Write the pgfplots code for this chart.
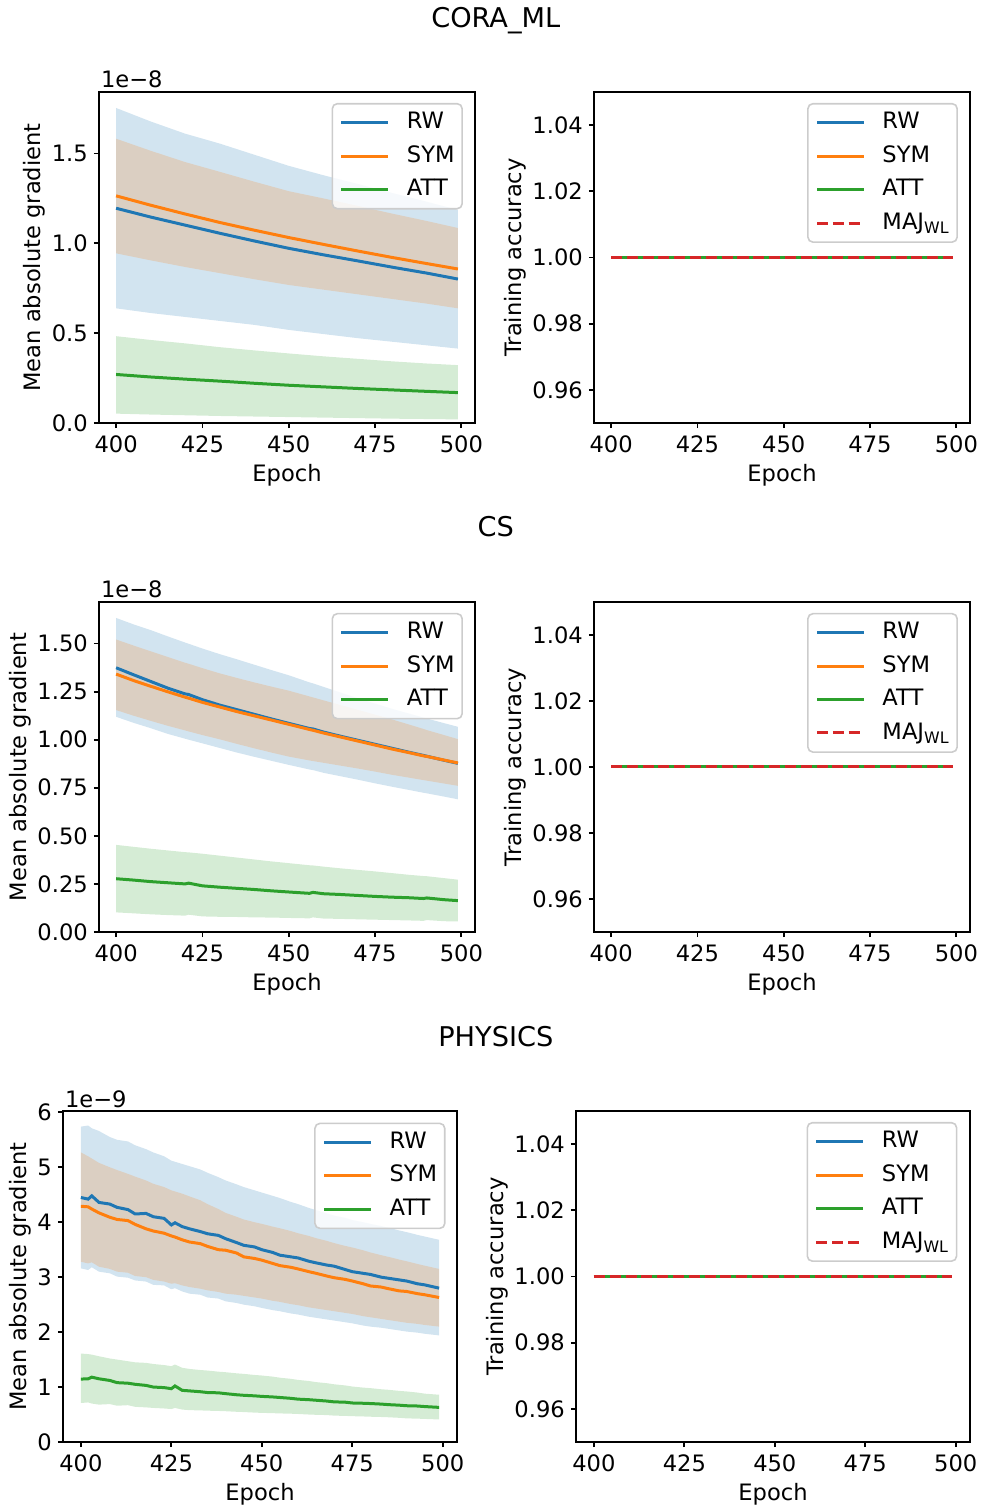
\documentclass[border=0pt]{standalone}
\usepackage{fontspec}
\setmainfont{DejaVu Sans}
\usepackage{pgfplots}
\pgfplotsset{compat=1.18}
\usepackage{pgfplotstable}
\usepgfplotslibrary{fillbetween}

\definecolor{tabblue}{HTML}{1F77B4}
\definecolor{taborange}{HTML}{FF7F0E}
\definecolor{tabgreen}{HTML}{2CA02C}
\definecolor{tabred}{HTML}{D62728}
\newcommand{\fs}{\fontsize{11.3bp}{13.6bp}\selectfont}
\newcommand{\ts}{\fontsize{13.6bp}{16.3bp}\selectfont}

% CORA_ML (units of 1e-8)
\pgfplotstableread{
x   rw    rwlo  rwhi  sym   symlo symhi att   attlo atthi
400 1.195 0.638 1.753 1.264 0.944 1.582 0.270 0.052 0.483
410 1.146 0.612 1.678 1.212 0.905 1.515 0.256 0.047 0.462
420 1.101 0.590 1.610 1.163 0.868 1.452 0.244 0.043 0.443
430 1.056 0.568 1.555 1.116 0.834 1.398 0.233 0.039 0.422
440 1.013 0.546 1.493 1.073 0.800 1.343 0.221 0.036 0.404
450 0.972 0.518 1.431 1.032 0.768 1.290 0.210 0.033 0.387
460 0.936 0.495 1.379 0.994 0.742 1.250 0.201 0.030 0.371
470 0.902 0.472 1.330 0.957 0.716 1.208 0.192 0.027 0.357
480 0.867 0.452 1.280 0.921 0.690 1.165 0.184 0.024 0.343
490 0.834 0.432 1.231 0.887 0.664 1.124 0.176 0.022 0.331
499 0.801 0.414 1.186 0.857 0.638 1.085 0.169 0.020 0.322
}\cora

% CS (units of 1e-8)
\pgfplotstableread{
x   rw    rwlo  rwhi  sym   symlo symhi att   attlo atthi
400 1.374 1.119 1.633 1.341 1.154 1.521 0.277 0.102 0.453
405 1.338 1.088 1.600 1.308 1.125 1.490 0.270 0.097 0.443
410 1.303 1.060 1.570 1.278 1.098 1.460 0.262 0.092 0.433
415 1.268 1.030 1.537 1.249 1.072 1.430 0.256 0.088 0.424
420 1.238 1.005 1.505 1.221 1.048 1.400 0.250 0.085 0.415
421 1.235 1.000 1.499 1.216 1.043 1.395 0.254 0.090 0.414
425 1.208 0.981 1.474 1.194 1.024 1.372 0.240 0.081 0.407
430 1.180 0.957 1.445 1.170 1.002 1.345 0.233 0.079 0.397
435 1.156 0.933 1.418 1.146 0.978 1.321 0.227 0.078 0.387
440 1.132 0.911 1.390 1.124 0.955 1.298 0.221 0.076 0.377
445 1.108 0.890 1.362 1.102 0.933 1.276 0.214 0.075 0.367
450 1.085 0.869 1.335 1.080 0.912 1.255 0.208 0.073 0.358
456 1.058 0.845 1.298 1.053 0.892 1.225 0.201 0.071 0.347
457 1.056 0.842 1.293 1.049 0.889 1.220 0.206 0.076 0.346
460 1.040 0.828 1.275 1.035 0.880 1.205 0.199 0.070 0.340
465 1.018 0.810 1.245 1.014 0.865 1.180 0.195 0.068 0.331
470 0.997 0.792 1.215 0.993 0.850 1.155 0.190 0.066 0.323
475 0.976 0.773 1.188 0.972 0.834 1.130 0.185 0.064 0.315
480 0.955 0.755 1.160 0.951 0.817 1.105 0.181 0.062 0.306
485 0.934 0.738 1.135 0.932 0.802 1.078 0.178 0.060 0.297
489 0.918 0.724 1.115 0.916 0.790 1.056 0.174 0.058 0.291
490 0.914 0.721 1.110 0.913 0.787 1.050 0.177 0.062 0.290
495 0.893 0.704 1.086 0.894 0.772 1.024 0.168 0.056 0.280
499 0.877 0.690 1.067 0.879 0.760 1.003 0.163 0.055 0.272
}\cs

% PHYSICS (units of 1e-9)
\pgfplotstableread{
x   rw   rwlo rwhi sym  symlo symhi att   attlo atthi
400 4.45 3.16 5.74 4.29 3.28 5.27 1.145 0.71 1.61
402 4.42 3.13 5.76 4.28 3.25 5.20 1.150 0.72 1.60
403 4.48 3.18 5.71 4.24 3.27 5.16 1.180 0.70 1.59
405 4.36 3.10 5.66 4.17 3.19 5.08 1.150 0.68 1.56
408 4.33 3.07 5.55 4.09 3.15 5.00 1.120 0.69 1.52
410 4.27 3.01 5.50 4.05 3.10 4.95 1.080 0.66 1.50
413 4.23 2.99 5.47 4.03 3.08 4.88 1.070 0.67 1.47
415 4.15 2.94 5.40 3.96 3.02 4.83 1.050 0.64 1.45
418 4.16 2.92 5.33 3.88 3.00 4.76 1.030 0.63 1.44
420 4.10 2.86 5.27 3.84 2.95 4.70 1.000 0.62 1.42
423 4.07 2.85 5.20 3.80 2.92 4.64 0.990 0.61 1.40
425 3.95 2.78 5.12 3.75 2.88 4.58 0.970 0.60 1.38
426 3.99 2.80 5.10 3.73 2.89 4.56 1.020 0.62 1.41
428 3.92 2.74 5.06 3.68 2.85 4.52 0.940 0.59 1.35
430 3.88 2.70 5.02 3.64 2.82 4.47 0.930 0.58 1.33
433 3.83 2.68 4.96 3.61 2.79 4.40 0.915 0.575 1.31
435 3.79 2.63 4.90 3.56 2.76 4.33 0.900 0.57 1.30
438 3.76 2.61 4.82 3.50 2.73 4.24 0.895 0.565 1.28
440 3.70 2.56 4.76 3.49 2.70 4.17 0.880 0.56 1.27
443 3.63 2.53 4.69 3.44 2.68 4.10 0.860 0.55 1.25
445 3.58 2.50 4.64 3.37 2.66 4.05 0.850 0.545 1.24
448 3.55 2.47 4.58 3.34 2.63 4.00 0.840 0.535 1.22
450 3.50 2.44 4.54 3.31 2.61 3.97 0.830 0.53 1.21
453 3.45 2.40 4.48 3.25 2.57 3.92 0.820 0.525 1.19
455 3.40 2.38 4.44 3.21 2.55 3.89 0.810 0.52 1.17
458 3.37 2.34 4.37 3.18 2.51 3.84 0.795 0.515 1.15
460 3.35 2.32 4.33 3.15 2.49 3.80 0.780 0.51 1.13
463 3.29 2.28 4.26 3.10 2.45 3.75 0.770 0.50 1.11
465 3.26 2.26 4.22 3.07 2.43 3.71 0.760 0.495 1.09
468 3.22 2.23 4.16 3.02 2.40 3.66 0.745 0.49 1.07
470 3.20 2.21 4.12 2.99 2.38 3.62 0.730 0.48 1.05
473 3.14 2.18 4.08 2.96 2.35 3.57 0.725 0.475 1.03
475 3.10 2.16 4.04 2.93 2.33 3.54 0.710 0.47 1.01
478 3.07 2.12 4.00 2.88 2.29 3.49 0.705 0.465 0.99
480 3.05 2.10 3.97 2.84 2.27 3.45 0.700 0.46 0.98
483 3.00 2.08 3.93 2.82 2.24 3.40 0.690 0.455 0.96
485 2.98 2.06 3.90 2.79 2.22 3.37 0.680 0.45 0.95
488 2.95 2.03 3.85 2.75 2.19 3.32 0.670 0.44 0.93
490 2.93 2.01 3.82 2.74 2.17 3.29 0.660 0.43 0.92
493 2.88 1.99 3.77 2.70 2.15 3.24 0.655 0.425 0.90
495 2.86 1.97 3.74 2.68 2.13 3.21 0.645 0.42 0.88
499 2.80 1.94 3.68 2.63 2.10 3.15 0.630 0.41 0.86
}\phys

\pgfplotsset{
  base/.style={
    scale only axis, anchor=south west,
    xmin=395.05, xmax=503.95, xtick={400,425,450,475,500},
    tick pos=left, tick align=outside, major tick length=2.6bp,
    every tick/.append style={line width=0.9bp, black},
    axis line style={line width=0.9bp},
    tick label style={font=\fs},
    xticklabel style={inner sep=3.6bp},
    yticklabel style={inner sep=2.8bp},
    label style={font=\fs},
    xlabel={Epoch},
    xlabel shift=-1.5bp,
    ylabel shift=-3bp,
    /pgf/number format/assume math mode=true,
    legend cell align=left,
    legend image code/.code={\draw[##1] (0bp,0bp) -- (23.5bp,0bp);},
    legend style={at={(0.968,0.967)}, anchor=north east,
      draw=black!20, line width=0.8bp, rounded corners=2.5bp,
      fill=white, fill opacity=0.8, text opacity=1, font=\fs,
      inner xsep=3.8bp, inner ysep=4.3bp, row sep=6.2bp,
      nodes={inner sep=0pt, text height=8.3bp, text depth=2.2bp},
      /tikz/every odd column/.append style={column sep=8.5bp}},
  },
  gradax/.style={base, ylabel={Mean absolute gradient}, ymin=0},
  accax/.style={base, ylabel={Training accuracy}, ymin=0.95, ymax=1.05,
    ytick={0.96,0.98,1.00,1.02,1.04},
    yticklabel style={/pgf/number format/.cd, fixed, fixed zerofill, precision=2}},
}

\newcommand{\gradplots}[2]{%
  \addplot[draw=none, forget plot, name path=#2rh] table[x=x,y=rwhi]{#1};
  \addplot[draw=none, forget plot, name path=#2rl] table[x=x,y=rwlo]{#1};
  \addplot[draw=none, forget plot, name path=#2sh] table[x=x,y=symhi]{#1};
  \addplot[draw=none, forget plot, name path=#2sl] table[x=x,y=symlo]{#1};
  \addplot[draw=none, forget plot, name path=#2ah] table[x=x,y=atthi]{#1};
  \addplot[draw=none, forget plot, name path=#2al] table[x=x,y=attlo]{#1};
  \addplot[fill=tabblue, fill opacity=0.2, draw=none, forget plot] fill between[of=#2rh and #2rl];
  \addplot[fill=taborange, fill opacity=0.2, draw=none, forget plot] fill between[of=#2sh and #2sl];
  \addplot[fill=tabgreen, fill opacity=0.2, draw=none, forget plot] fill between[of=#2ah and #2al];
  \addplot[tabblue, line width=1.5bp] table[x=x,y=rw]{#1}; \addlegendentry{RW}
  \addplot[taborange, line width=1.5bp] table[x=x,y=sym]{#1}; \addlegendentry{SYM}
  \addplot[tabgreen, line width=1.5bp] table[x=x,y=att]{#1}; \addlegendentry{ATT}
}
\newcommand{\accplots}{%
  \addplot[tabblue, line width=1.5bp] coordinates {(400,1.0) (499,1.0)}; \addlegendentry{RW}
  \addplot[taborange, line width=1.5bp] coordinates {(400,1.0) (499,1.0)}; \addlegendentry{SYM}
  \addplot[tabgreen, line width=1.5bp] coordinates {(400,1.0) (499,1.0)}; \addlegendentry{ATT}
  \addplot[tabred, line width=1.5bp, dash pattern=on 5.5bp off 2.4bp] coordinates {(400,1.0) (499,1.0)}; \addlegendentry{MAJ\textsubscript{WL}}
}

\begin{document}
\begin{tikzpicture}
% titles
\node[font=\ts, anchor=base] at (247.9bp,738.9bp) {CORA\_ML};
\node[font=\ts, anchor=base] at (247.9bp,484.3bp) {CS};
\node[font=\ts, anchor=base] at (247.9bp,229.3bp) {PHYSICS};

% Row 1
\begin{axis}[gradax, name=a1, at={(49.5bp,541bp)}, width=188bp, height=165.5bp,
  ymax=1.842, ytick={0,0.5,1.0,1.5},
  yticklabel style={/pgf/number format/.cd, fixed, fixed zerofill, precision=1}]
\gradplots{\cora}{a}
\end{axis}
\node[font=\fs, anchor=base west, inner sep=0pt] at ([xshift=0.8bp,yshift=2bp]a1.north west) {1e−8};

\begin{axis}[accax, at={(297bp,541bp)}, width=188bp, height=165.5bp]
\accplots
\end{axis}

% Row 2
\begin{axis}[gradax, name=a2, at={(49.5bp,286.5bp)}, width=188bp, height=165bp,
  ymax=1.716, ytick={0,0.25,0.5,0.75,1.0,1.25,1.5},
  yticklabel style={/pgf/number format/.cd, fixed, fixed zerofill, precision=2}]
\gradplots{\cs}{b}
\end{axis}
\node[font=\fs, anchor=base west, inner sep=0pt] at ([xshift=0.8bp,yshift=2bp]a2.north west) {1e−8};

\begin{axis}[accax, at={(297bp,286.5bp)}, width=188bp, height=165bp]
\accplots
\end{axis}

% Row 3
\begin{axis}[gradax, name=a3, at={(31.5bp,31.5bp)}, width=197bp, height=165.5bp,
  ymax=6.024, ytick={0,1,2,3,4,5,6},
  legend style={at={(0.971,0.965)}}]
\gradplots{\phys}{c}
\end{axis}
\node[font=\fs, anchor=base west, inner sep=0pt] at ([xshift=0.8bp,yshift=2bp]a3.north west) {1e−9};

\begin{axis}[accax, at={(288bp,31.5bp)}, width=197bp, height=165.5bp]
\accplots
\end{axis}

\pgfresetboundingbox
\path[use as bounding box] (0,0) rectangle (490.5bp,752.5bp);
\end{tikzpicture}
\end{document}
